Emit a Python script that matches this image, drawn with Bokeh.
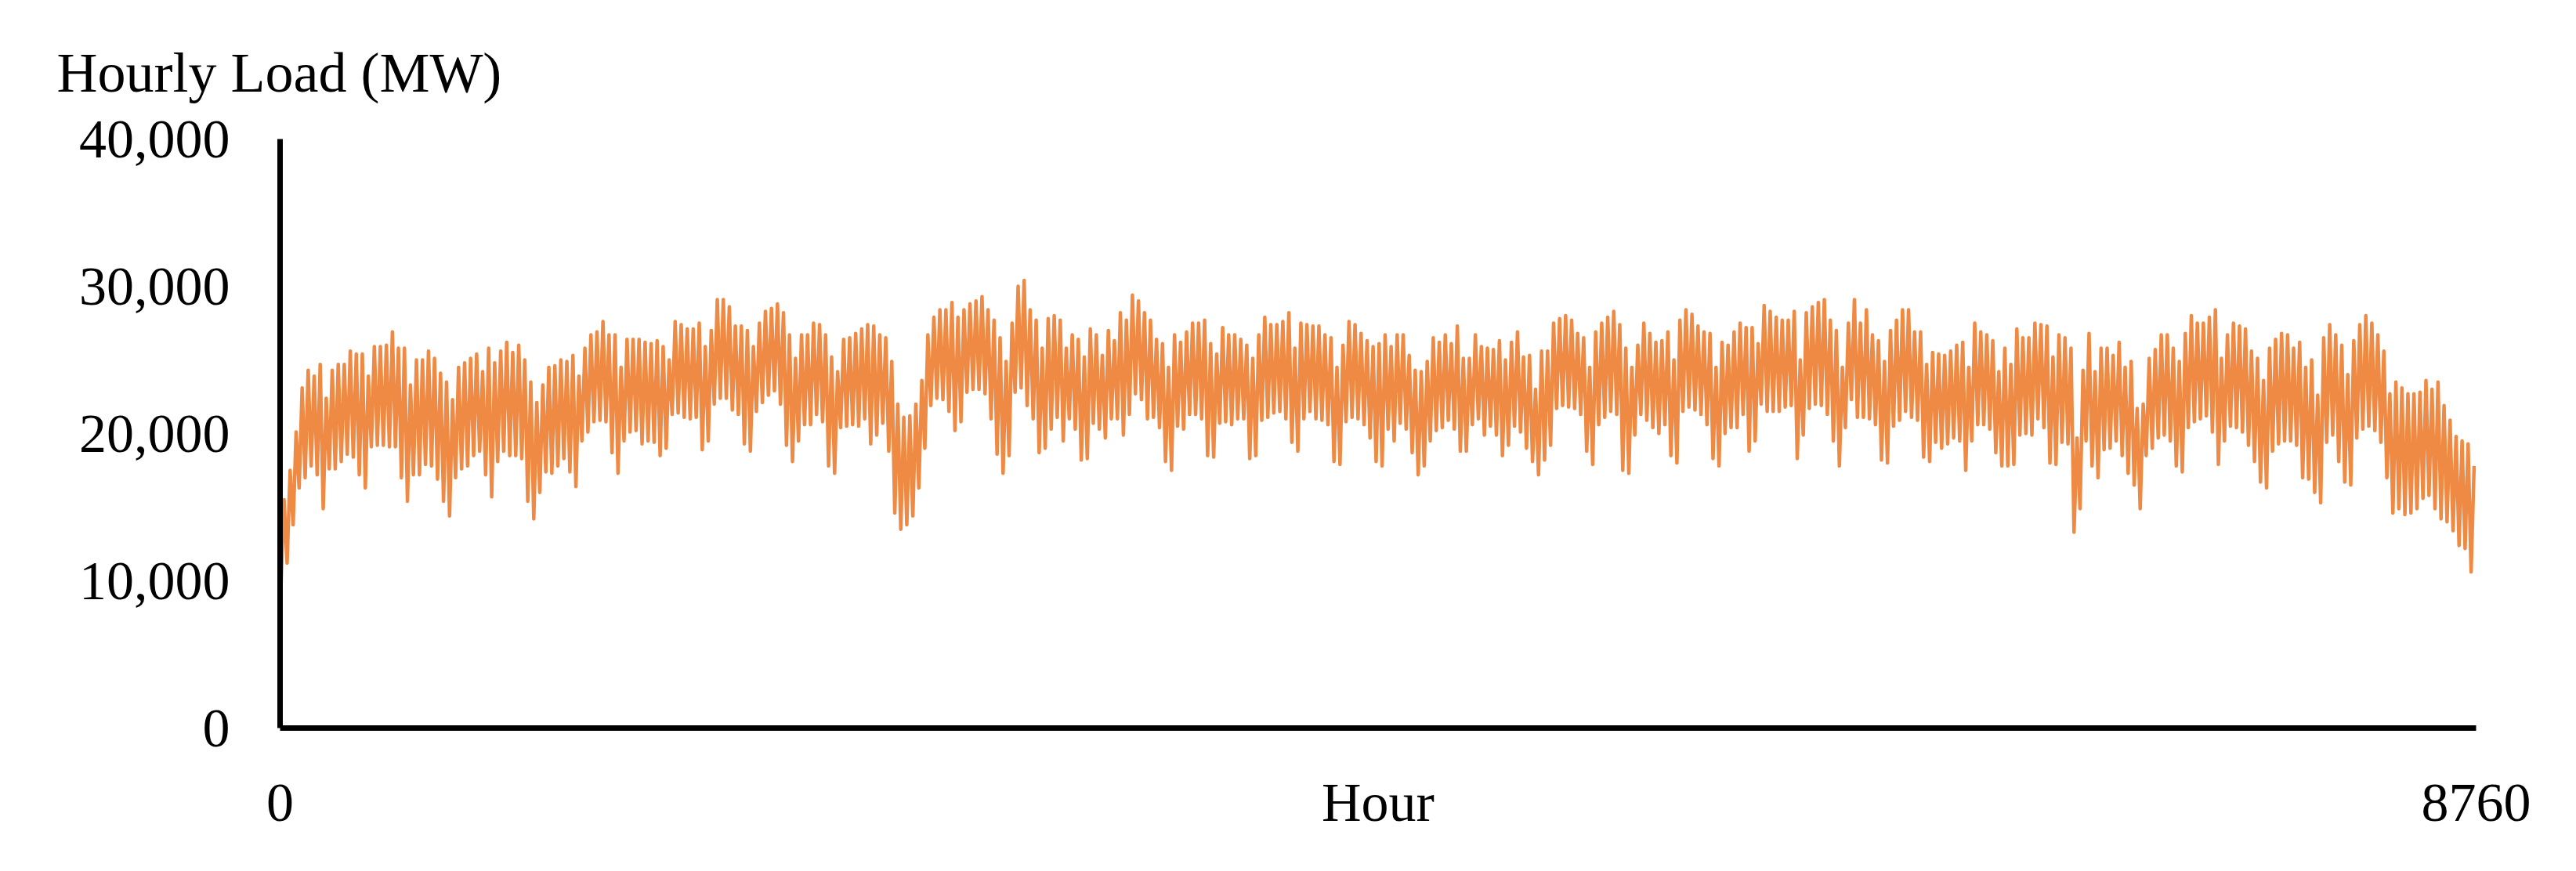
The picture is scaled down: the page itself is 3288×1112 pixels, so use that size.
from bokeh.plotting import figure
from bokeh.models import FixedTicker, NumeralTickFormatter, ColumnDataSource, Range1d
from bokeh.embed import file_html
from bokeh.resources import INLINE

# Daily trough and peak hourly load (MW), day 0 .. day 364
daily_peak = [
    # days 0-60
    15500, 17500, 20100, 23100, 24300, 23900, 24700, 22400, 24300, 24700,
    24700, 25600, 25400, 25400, 23900, 25900, 25900, 26000, 26900, 25800,
    25800, 23300, 25000, 25000, 25600, 25100, 24100, 23500, 22300, 24500,
    24800, 25100, 25400, 24200, 25800, 24800, 25600, 26200, 25500, 26000,
    25000, 23500, 22100, 23300, 24500, 24600, 25000, 24900, 25300, 23900,
    25800, 26700, 26900, 27600, 26700, 26700, 24500, 26400, 26400, 26400,
    26200,
    # days 61-121
    26100, 26300, 25900, 25000, 27600, 27400, 27100, 27100, 27500, 25900,
    27000, 29100, 29100, 28600, 27300, 27300, 27000, 25900, 27500, 28300,
    28500, 28800, 28200, 26700, 25100, 26700, 26700, 27500, 27400, 26700,
    25200, 24200, 26400, 26500, 26800, 27100, 27400, 27300, 26700, 26500,
    24900, 22000, 21100, 21200, 22000, 23600, 26700, 27900, 28400, 28400,
    28900, 27900, 28400, 28800, 29000, 29300, 28400, 27700, 26500, 24900,
    27500,
    # days 122-182
    30000, 30400, 28400, 27700, 25800, 27800, 28000, 27700, 25800, 26700,
    26400, 25200, 27100, 26700, 25300, 27000, 26300, 28200, 27700, 29400,
    29000, 28200, 27700, 26400, 26100, 24500, 26700, 26200, 26900, 27500,
    27500, 27700, 26100, 25400, 27200, 26700, 26700, 26400, 26000, 25100,
    26700, 27900, 27400, 27400, 27600, 28200, 25800, 27500, 27400, 27300,
    27300, 26700, 26500, 24500, 26000, 27600, 27400, 26800, 26300, 25900,
    26100,
    # days 183-243
    26700, 25900, 26700, 26700, 25300, 24300, 24200, 24900, 26500, 26200,
    26700, 26100, 27300, 25100, 25100, 26700, 25900, 25800, 25700, 26300,
    25000, 26200, 26900, 25200, 25300, 23000, 25600, 25600, 27500, 27800,
    28000, 27700, 26800, 26500, 24500, 26900, 27500, 27900, 28300, 27400,
    25800, 24500, 26000, 27500, 26800, 26200, 26300, 26900, 25000, 27700,
    28400, 28100, 27300, 26900, 26800, 24500, 26200, 26000, 26900, 27500,
    27200,
    # days 244-304
    27200, 26100, 28700, 28300, 27900, 27700, 27700, 28300, 25000, 28200,
    28600, 28900, 29100, 27700, 27000, 24500, 27500, 29100, 27500, 28400,
    26700, 26300, 24900, 27000, 27700, 28400, 28400, 26900, 26900, 24700,
    25500, 25400, 25300, 25600, 26000, 26200, 24500, 27500, 26900, 26700,
    26300, 24200, 25800, 24700, 27100, 26500, 26500, 27500, 27400, 27300,
    25200, 26700, 26500, 25800, 19700, 24300, 26800, 24200, 25800, 25800,
    25300,
    # days 305-364
    26200, 24500, 24900, 21700, 22000, 25100, 25700, 26700, 26700, 25800,
    24900, 26800, 28000, 27500, 27500, 27900, 28400, 25100, 26700, 27500,
    27300, 27100, 25600, 25100, 23600, 25800, 26400, 26800, 26700, 25800,
    26200, 24500, 25000, 22600, 26500, 27400, 26700, 26000, 24000, 26300,
    27400, 28000, 27500, 26700, 25600, 22700, 23500, 23100, 22700, 22700,
    22800, 23600, 23000, 23500, 21900, 20900, 19800, 19500, 19300, 17800,
]

daily_trough = [
    # days 0-60
    9900, 11200, 13800, 16300, 17000, 17800, 17200, 14900, 17600, 17600,
    18100, 18600, 18400, 17200, 16300, 19100, 19200, 19200, 19100, 19100,
    17000, 15400, 17200, 17200, 17900, 17800, 16900, 15400, 14400, 17000,
    17600, 17800, 18500, 18800, 17200, 15700, 18100, 18800, 18500, 18500,
    18300, 15400, 14200, 16000, 17400, 17300, 17800, 18300, 17400, 16400,
    19500, 20100, 20800, 20900, 20800, 18700, 17300, 19500, 20100, 20200,
    19300,
    # days 61-121
    19500, 19400, 18500, 19000, 21300, 21400, 21100, 21000, 21100, 18900,
    19500, 22000, 22400, 22400, 21600, 21300, 19300, 18800, 21500, 22100,
    22600, 22900, 22000, 19200, 18100, 19500, 20600, 20600, 21300, 20800,
    17800, 17300, 20400, 20500, 20600, 20500, 21000, 19300, 19900, 20700,
    18800, 14600, 13500, 13800, 14400, 16300, 19000, 21900, 22400, 22300,
    21500, 20200, 20800, 22800, 23000, 23000, 22700, 21000, 18600, 17300,
    18500,
    # days 122-182
    22800, 23100, 21900, 21000, 18700, 19000, 20300, 21100, 19500, 21000,
    20300, 18200, 18300, 20700, 20300, 19700, 21000, 21000, 19900, 21300,
    22700, 22300, 21000, 21100, 20400, 18100, 17500, 20500, 20300, 21300,
    21300, 21000, 18500, 18400, 20700, 20800, 20600, 21000, 21000, 18300,
    18500, 20900, 21100, 21400, 21500, 21000, 19400, 18800, 21000, 21500,
    21000, 20900, 20600, 18100, 17900, 20800, 21100, 21000, 20600, 19700,
    18100,
    # days 183-243
    17800, 20300, 19500, 20700, 20300, 18700, 17200, 17800, 19500, 20200,
    20400, 20900, 20300, 18800, 18800, 20600, 21000, 19900, 20500, 19900,
    18500, 19200, 20500, 20100, 19000, 18100, 17200, 18200, 19200, 21700,
    21900, 21800, 21700, 21300, 18800, 17900, 20600, 21100, 21500, 21300,
    17500, 17300, 19900, 21300, 20900, 20400, 20000, 20600, 18500, 18000,
    21500, 21800, 21600, 21300, 20600, 18300, 17800, 20000, 20400, 20400,
    21300,
    # days 244-304
    18800, 19500, 22000, 21500, 21500, 21500, 21800, 21900, 18300, 19900,
    21700, 22000, 21900, 21300, 19500, 17800, 20400, 22300, 21100, 21100,
    21000, 20600, 18200, 18000, 20500, 20900, 21500, 21100, 20900, 18400,
    18100, 19400, 19000, 19300, 19700, 19500, 17500, 19500, 20600, 20600,
    20300, 18700, 17800, 17800, 17900, 19900, 20000, 19900, 21000, 20400,
    18000, 17900, 19400, 19300, 13300, 14900, 19500, 17800, 17000, 18900,
    19000,
    # days 305-364
    19500, 18500, 17300, 16500, 14900, 18500, 19000, 19700, 19900, 19500,
    17800, 17400, 20400, 20800, 21000, 21200, 20100, 17900, 19500, 20500,
    20400, 20100, 19200, 18100, 16700, 16300, 18800, 19300, 19500, 19500,
    19200, 17000, 16900, 16000, 15300, 19400, 19900, 18100, 16700, 16500,
    19700, 20300, 20500, 20200, 19400, 17000, 14600, 14900, 14500, 14600,
    14900, 15600, 15800, 14900, 14200, 14000, 13400, 12400, 12200, 10600,
]

y_ticks = [0, 10000, 20000, 30000, 40000]
x_ticks = [0, 4380, 8760]
x_tick_text = {4380: "Hour"}
title_text = "Hourly Load (MW)"

# hourly line: night trough then afternoon peak for each day
hours, loads = [], []
for d, (lo, hi) in enumerate(zip(daily_trough, daily_peak)):
    hours += [24 * d + 4, 24 * d + 16]
    loads += [lo, hi]

src = ColumnDataSource(dict(hour=hours, load=loads))

FONT = "Liberation Serif"

p = figure(width=3272, height=1096,
           x_range=Range1d(0, 8760), y_range=Range1d(0, 40000),
           output_backend="svg", toolbar_location=None,
           min_border_left=357, min_border_right=112,
           min_border_top=177, min_border_bottom=167,
           title=title_text)

p.outline_line_color = None
p.xgrid.visible = False
p.ygrid.visible = False
p.background_fill_color = "white"
p.border_fill_color = "white"

p.line("hour", "load", source=src, line_color="#ED7D31", line_width=4.5,
       line_join="round", line_alpha=0.9)

p.title.text_font = FONT
p.title.text_font_size = "72px"
p.title.text_font_style = "normal"
p.title.text_color = "black"
p.title.align = "left"
p.title.offset = -285
p.title.standoff = 90

for ax in (p.xaxis[0], p.yaxis[0]):
    ax.axis_line_width = 7
    ax.axis_line_color = "black"
    ax.major_tick_line_color = None
    ax.minor_tick_line_color = None
    ax.major_tick_out = 0
    ax.major_tick_in = 0
    ax.minor_tick_out = 0
    ax.major_label_text_font = FONT
    ax.major_label_text_font_size = "70px"
    ax.major_label_text_color = "black"

p.yaxis[0].ticker = FixedTicker(ticks=y_ticks)
p.yaxis[0].formatter = NumeralTickFormatter(format="0,0")
p.yaxis[0].major_label_standoff = 64

p.xaxis[0].ticker = FixedTicker(ticks=x_ticks)
p.xaxis[0].major_label_overrides = x_tick_text
p.xaxis[0].major_label_standoff = 56

open("out.html", "w").write(file_html(p, INLINE))
